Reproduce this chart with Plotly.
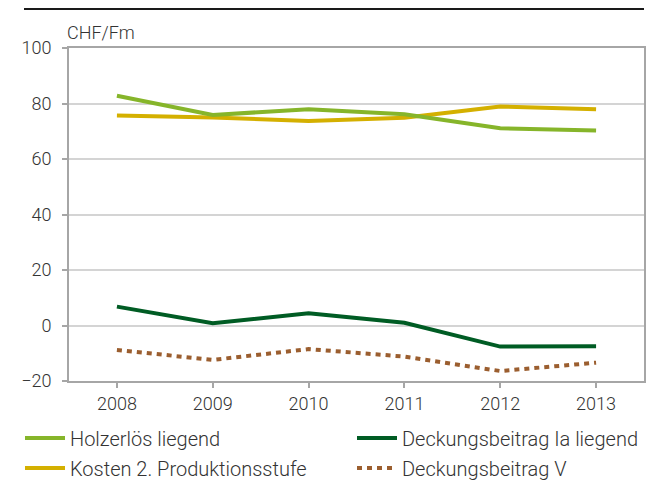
import plotly.graph_objects as go

years = ["2008", "2009", "2010", "2011", "2012", "2013"]
holzerloes = [82.8, 75.9, 77.9, 76.1, 71.1, 70.3]
kosten = [75.7, 75.0, 73.7, 74.9, 78.9, 77.9]
db_ia = [6.8, 0.8, 4.4, 1.0, -7.6, -7.5]
db_v = [-8.8, -12.4, -8.5, -11.2, -16.4, -13.4]

FONT = "Roboto"
OFF = 8  # default body margin of the html page
W, H = 662 - OFF, 485 - OFF
L = 69 - OFF
T = 48 - OFF
R = W - (644 - OFF)
B = H - (381 - OFF)
TXT = "#333333"

fig = go.Figure()
fig.add_trace(go.Scatter(x=years, y=db_v, mode="lines", name="Deckungsbeitrag V",
                         line=dict(color="#9b5e2f", width=4, dash="5px,5px"), legend="legend4"))
fig.add_trace(go.Scatter(x=years, y=db_ia, mode="lines", name="Deckungsbeitrag Ia liegend",
                         line=dict(color="#005c24", width=4), legend="legend2"))
fig.add_trace(go.Scatter(x=years, y=kosten, mode="lines", name="Kosten 2. Produktionsstufe",
                         line=dict(color="#d4b000", width=4), legend="legend3"))
fig.add_trace(go.Scatter(x=years, y=holzerloes, mode="lines", name="Holzerlös liegend",
                         line=dict(color="#86b52a", width=4), legend="legend"))

pw = W - L - R
ph = H - T - B


def leg(xpix, ypix):
    return dict(orientation="h", xref="container", yref="container", xanchor="left",
                yanchor="middle", x=xpix / W, y=1 - ypix / H,
                font=dict(family=FONT, size=20, color=TXT, weight=300),
                bgcolor="rgba(0,0,0,0)", itemwidth=40)


fig.update_layout(
    width=W, height=H,
    margin=dict(l=L, r=R, t=T, b=B, autoexpand=False),
    paper_bgcolor="white", plot_bgcolor="white",
    font=dict(family=FONT, size=18, color=TXT, weight=300),
    showlegend=True,
    legend=leg(25 - OFF - 5, 438 - OFF),
    legend2=leg(357 - OFF - 5, 438 - OFF),
    legend3=leg(25 - OFF - 5, 468 - OFF),
    legend4=leg(357 - OFF - 5, 468 - OFF),
    xaxis=dict(type="category", range=[-0.5, 5.5], showline=True, linecolor="#a6a6a6",
               linewidth=2, mirror=True, ticks="outside", ticklen=5, tickcolor="#a6a6a6",
               tickwidth=1.5, showgrid=False, ticklabelstandoff=0,
               tickfont=dict(family=FONT, size=18, color=TXT, weight=300)),
    yaxis=dict(range=[-20, 100], dtick=20, showline=True, linecolor="#a6a6a6", linewidth=2,
               mirror=True, ticks="outside", ticklen=5, tickcolor="#a6a6a6", tickwidth=1.5,
               showgrid=True, gridcolor="#d4d4d4", gridwidth=1.5, zeroline=False,
               ticklabelstandoff=7,
               tickfont=dict(family=FONT, size=18, color=TXT, weight=300)),
    shapes=[dict(type="line", xref="paper", yref="paper",
                 x0=(24 - 69) / pw, x1=(644 - 69) / pw,
                 y0=1 + (T - 1) / ph, y1=1 + (T - 1) / ph,
                 line=dict(color="#1a1a1a", width=2))],
    annotations=[dict(text="CHF/Fm", xref="paper", yref="paper", x=0, y=1, xanchor="left",
                      yanchor="bottom", yshift=3, xshift=-4, showarrow=False,
                      font=dict(family=FONT, size=18, color=TXT, weight=300))],
)

fig.write_html("out.html")
